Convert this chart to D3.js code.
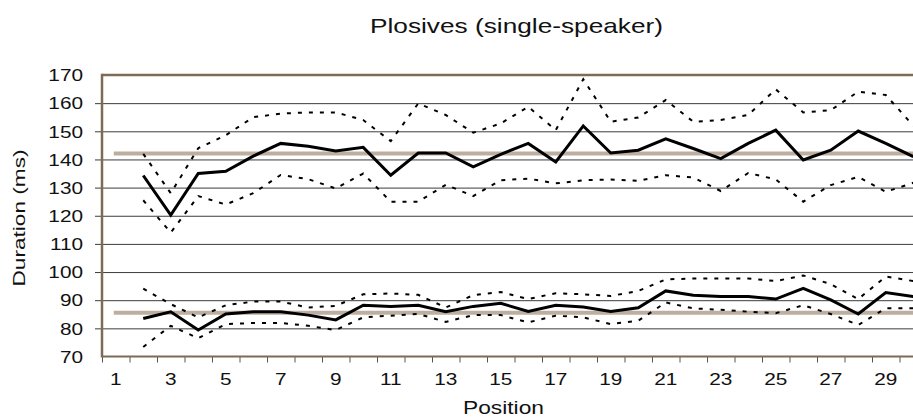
<!DOCTYPE html>
<html><head><meta charset="utf-8">
<script src="https://cdn.jsdelivr.net/npm/d3@7/dist/d3.min.js"></script>
<style>body{margin:0;background:#fff}svg{display:block}text{font-family:"Liberation Sans",Arial,Helvetica,sans-serif;fill:#111}</style>
</head><body><svg id="c" width="913" height="418"></svg>
<script>
// ---- data ----
const positions = [1,2,3,4,5,6,7,8,9,10,11,12,13,14,15,16,17,18,19,20,21,22,23,24,25,26,27,28,29,30];
const seriesPositions = [2,3,4,5,6,7,8,9,10,11,12,13,14,15,16,17,18,19,20,21,22,23,24,25,26,27,28,29,30];
const xTickLabels = [1,3,5,7,9,11,13,15,17,19,21,23,25,27,29];
const yTicks = [70,80,90,100,110,120,130,140,150,160,170];
const gridValues = [80,90,100,110,120,130,140,150,160];

const upperMean = [134.3,120.2,135.0,135.8,141.2,145.7,144.7,143.0,144.3,134.4,142.3,142.3,137.4,141.8,145.7,139.1,151.9,142.3,143.3,147.3,143.9,140.3,145.7,150.4,139.8,143.3,150.1,145.7,141.0];
const upperHigh = [142.0,128.0,144.0,148.6,155.0,156.3,156.7,156.7,154.0,146.5,159.9,155.8,149.5,152.8,158.7,150.4,168.5,153.4,154.9,161.1,153.4,154.0,155.8,164.9,156.7,157.5,164.1,162.9,152.0];
const upperLow  = [125.5,114.0,127.0,124.0,128.0,134.5,133.0,129.7,135.0,125.0,125.0,131.0,127.0,132.6,133.2,131.5,132.6,132.9,132.4,134.4,133.6,128.8,135.2,132.9,125.0,130.9,133.8,128.5,131.7];
const lowerMean = [83.5,85.9,79.4,85.1,85.9,85.9,84.7,83.0,88.2,87.8,88.2,85.9,87.8,88.9,86.0,88.2,87.6,86.0,87.3,93.3,91.8,91.3,91.3,90.4,94.2,90.1,85.1,92.7,91.3];
const lowerHigh = [94.1,88.6,83.9,88.2,89.5,89.5,87.4,88.0,92.1,92.4,91.9,87.4,91.8,92.9,90.4,92.5,92.1,91.5,93.3,97.4,97.7,97.7,97.7,96.8,98.8,95.7,90.4,98.4,96.8];
const lowerLow  = [73.4,80.9,76.5,81.5,81.9,81.9,80.9,79.4,83.9,84.5,85.1,82.3,84.7,84.7,82.1,84.5,83.9,81.5,82.7,89.2,87.1,86.6,85.9,85.4,88.2,85.1,81.2,87.1,87.1];
const referenceLevels = [142.1, 85.5];

// ---- layout ----
const svg = d3.select("#c");
svg.append("rect").attr("width",913).attr("height",418).attr("fill","#fff");
const pLeft = 102, pRight = 927, pTop = 75, pBottom = 356.5;
const x = d3.scaleBand().domain(positions).range([pLeft, pRight]).padding(0);
const xc = p => x(p) + x.bandwidth()/2;
const y = d3.scaleLinear().domain([70,170]).range([pBottom, pTop]);
const brown = "#7d6b55";

// gridlines
const grid = svg.append("g").attr("transform",`translate(95,0)`)
  .call(d3.axisLeft(y).tickValues(gridValues).tickSize(-(pRight-95)).tickFormat(""));
grid.select(".domain").remove();
grid.selectAll("line").attr("stroke","#3c3c3c").attr("stroke-width",1);

// reference lines
const refLine = d3.line().x(d=>xc(d.p)).y(d=>y(d.v));
referenceLevels.forEach(lv=>{
  svg.append("path").datum(positions.map(p=>({p, v:lv})))
    .attr("d", refLine).attr("fill","none").attr("stroke","#bdae9f")
    .attr("stroke-width",4).attr("stroke-linecap","square");
});

// x boundary ticks
const xb = d3.scaleLinear().domain([0, positions.length]).range([pLeft, pRight]);
const xt = svg.append("g").attr("transform",`translate(0,${pBottom})`)
  .call(d3.axisBottom(xb).tickValues(d3.range(0, positions.length+1)).tickSize(6).tickFormat(""));
xt.select(".domain").remove();
xt.selectAll("line").attr("stroke","#555").attr("stroke-width",1);

// x labels
const xl = svg.append("g").attr("transform",`translate(0,${pBottom})`)
  .call(d3.axisBottom(x).tickValues(xTickLabels).tickSize(0));
xl.select(".domain").remove();
xl.selectAll("text").attr("y",28.5).attr("dy",0).attr("font-size",16)
  .attr("transform","scale(1.3,1)").style("fill","#111").style("font-family",'"Liberation Sans",Arial,sans-serif');

// y labels
const yl = svg.append("g").attr("transform",`translate(${pLeft},0)`)
  .call(d3.axisLeft(y).tickValues(yTicks).tickSize(0));
yl.select(".domain").remove();
yl.selectAll("text").attr("x",-14.6).attr("dy","0.36em").attr("font-size",16)
  .attr("transform","scale(1.3,1)").style("fill","#111").style("font-family",'"Liberation Sans",Arial,sans-serif');

// frame lines (brown)
svg.append("line").attr("x1",pLeft).attr("x2",pRight).attr("y1",y(170)).attr("y2",y(170)).attr("stroke",brown).attr("stroke-width",2.5);
svg.append("line").attr("x1",pLeft).attr("x2",pRight).attr("y1",y(70)).attr("y2",y(70)).attr("stroke",brown).attr("stroke-width",2);
svg.append("line").attr("x1",pLeft).attr("x2",pLeft).attr("y1",y(170)-1.2).attr("y2",y(70)+1).attr("stroke",brown).attr("stroke-width",2.5);

// series
const line = d3.line().x(d=>xc(d.p)).y(d=>y(d.v));
function draw(vals, dashed){
  const data = seriesPositions.map((p,i)=>({p, v:vals[i]}));
  const path = svg.append("path").datum(data).attr("d",line).attr("fill","none").attr("stroke","#000");
  if(dashed){ path.attr("stroke-width",2).attr("stroke-dasharray","4,7"); }
  else { path.attr("stroke-width",3).attr("stroke-linejoin","miter"); }
}
draw(upperHigh,true); draw(upperLow,true); draw(lowerHigh,true); draw(lowerLow,true);
draw(upperMean,false); draw(lowerMean,false);

// titles
svg.append("text").attr("x",516.5).attr("y",33.3).attr("text-anchor","middle")
  .attr("font-size",21).attr("textLength",293).attr("lengthAdjust","spacingAndGlyphs")
  .text("Plosives (single-speaker)");
svg.append("text").attr("x",503.5).attr("y",413.5).attr("text-anchor","middle")
  .attr("font-size",19).attr("textLength",81).attr("lengthAdjust","spacingAndGlyphs")
  .text("Position");
svg.append("text").attr("transform","translate(25,218) rotate(-90)").attr("text-anchor","middle")
  .attr("font-size",17).attr("textLength",137).attr("lengthAdjust","spacingAndGlyphs")
  .text("Duration (ms)");
</script></body></html>
